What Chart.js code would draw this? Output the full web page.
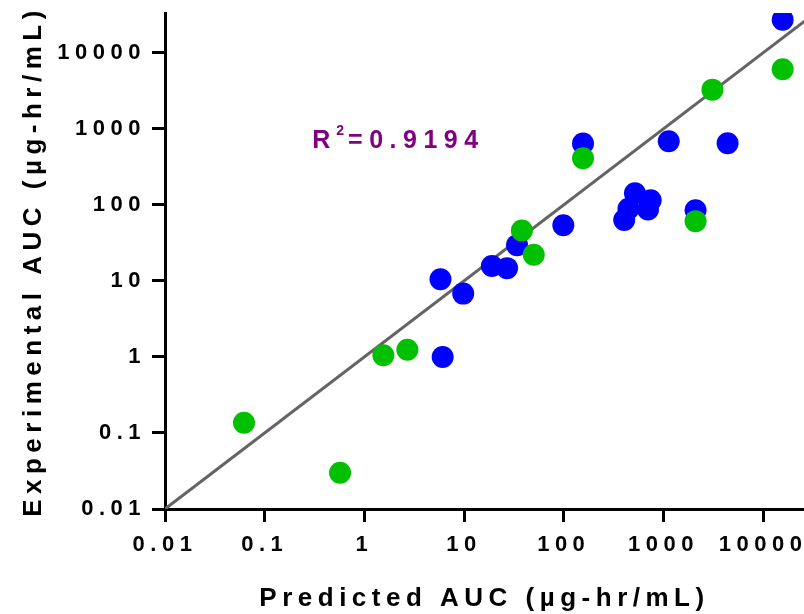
<!DOCTYPE html>
<html>
<head>
<meta charset="utf-8">
<script src="https://cdn.jsdelivr.net/npm/chart.js@4/dist/chart.umd.min.js"></script>
<style>
  html, body { margin: 0; padding: 0; background: #ffffff; }
  #wrap { width: 804px; height: 614px; }
</style>
</head>
<body>
<div id="wrap"><canvas id="c" width="804" height="614"></canvas></div>
<script>
// ---- data ----
const tickValues = [0.01, 0.1, 1, 10, 100, 1000, 10000];
const tickLabels = ['0.01', '0.1', '1', '10', '100', '1000', '10000'];

const greenPredicted    = [0.062, 0.57, 1.55, 2.7, 38, 50, 156, 2100, 3100, 15700];
const greenExperimental = [0.136, 0.030, 1.05, 1.24, 46, 22, 410, 61, 3270, 6050];

const bluePredicted    = [6.1, 5.8, 9.8, 19, 27, 34, 99, 156, 404, 446, 518, 700, 745, 1130, 2100, 4400, 15700];
const blueExperimental = [1.0, 10.5, 6.8, 15.7, 14.7, 29.5, 54, 640, 63, 89, 142, 87, 115, 685, 85, 645, 27200];

const identityLine = [0.01, 100000];

const xRange = [0.01, 25700];
const yRange = [0.01, 33300];

const xTitle = 'Predicted AUC (\u00b5g-hr/mL)';
const yTitle = 'Experimental AUC (\u00b5g-hr/mL)';
const r2Label = { main: 'R', sup: '2', rest: '=0.9194', x: 0.30, y: 566 };

// ---- build ----
const toPoints = (xs, ys) => xs.map((x, i) => ({ x: x, y: ys[i] }));
const FONT = "'Liberation Sans', Arial, Helvetica, sans-serif";

const spacingPlugin = {
  id: 'spacing',
  beforeDraw(chart) {
    chart.ctx.letterSpacing = '5.5px';
  },
  afterDraw(chart) {
    const ctx = chart.ctx;
    const xs = chart.scales.x, ys = chart.scales.y;
    const px = xs.getPixelForValue(r2Label.x);
    const py = ys.getPixelForValue(r2Label.y);
    ctx.save();
    ctx.fillStyle = '#800080';
    ctx.textBaseline = 'alphabetic';
    ctx.textAlign = 'left';
    ctx.letterSpacing = '6px';
    ctx.font = 'bold 25px ' + FONT;
    ctx.fillText(r2Label.main, px, py);
    let cx = px + ctx.measureText(r2Label.main).width;
    ctx.font = 'bold 14px ' + FONT;
    ctx.letterSpacing = '3px';
    ctx.fillText(r2Label.sup, cx, py - 13);
    cx += ctx.measureText(r2Label.sup).width + 1;
    ctx.font = 'bold 25px ' + FONT;
    ctx.letterSpacing = '6.5px';
    ctx.fillText(r2Label.rest, cx, py);
    ctx.restore();
    ctx.letterSpacing = '0px';
  }
};

const axisCommon = {
  type: 'logarithmic',
  grid: {
    display: true,
    drawOnChartArea: false,
    drawTicks: true,
    tickLength: 13,
    tickWidth: 3,
    tickColor: '#000000'
  },
  border: { display: true, color: '#000000', width: 3 },
  afterBuildTicks(scale) {
    scale.ticks = tickValues.map(v => ({ value: v }));
  },
  ticks: {
    color: '#000000',
    font: { family: FONT, size: 22, weight: 'bold' },
    autoSkip: false,
    maxRotation: 0,
    callback(value, index) { return tickLabels[index]; }
  }
};

function zeroPad(scale) {
  scale.paddingLeft = 0;
  scale.paddingRight = 0;
  scale.paddingTop = 0;
  scale.paddingBottom = 0;
}

new Chart(document.getElementById('c'), {
  data: {
    datasets: [
      {
        type: 'scatter',
        label: 'green',
        data: toPoints(greenPredicted, greenExperimental),
        backgroundColor: '#00c000',
        borderWidth: 0,
        pointRadius: 11,
        pointHoverRadius: 11
      },
      {
        type: 'scatter',
        label: 'blue',
        data: toPoints(bluePredicted, blueExperimental),
        backgroundColor: '#0000ff',
        borderWidth: 0,
        pointRadius: 11,
        pointHoverRadius: 11
      },
      {
        type: 'line',
        label: 'identity',
        data: toPoints(identityLine, identityLine),
        borderColor: '#646464',
        borderWidth: 3,
        pointRadius: 0,
        fill: false
      }
    ]
  },
  options: {
    responsive: false,
    animation: false,
    events: [],
    layout: { autoPadding: false, padding: { left: 0, right: 0, top: 13, bottom: 0 } },
    plugins: { legend: { display: false }, tooltip: { enabled: false } },
    scales: {
      x: Object.assign({}, axisCommon, {
        position: 'bottom',
        min: xRange[0],
        max: xRange[1],
        afterFit(scale) { scale.height = 105; zeroPad(scale); },
        ticks: Object.assign({}, axisCommon.ticks, { padding: 10 }),
        title: {
          display: true,
          text: xTitle,
          color: '#000000',
          font: { family: FONT, size: 26, weight: 'bold' },
          padding: { top: 0, bottom: 0 }
        }
      }),
      y: Object.assign({}, axisCommon, {
        position: 'left',
        min: yRange[0],
        max: yRange[1],
        afterFit(scale) { scale.width = 165; zeroPad(scale); },
        ticks: Object.assign({}, axisCommon.ticks, { padding: 6 }),
        title: {
          display: true,
          text: yTitle,
          color: '#000000',
          font: { family: FONT, size: 26, weight: 'bold' },
          padding: { top: 18.5, bottom: 0 }
        }
      })
    }
  },
  plugins: [spacingPlugin]
});
</script>
</body>
</html>
